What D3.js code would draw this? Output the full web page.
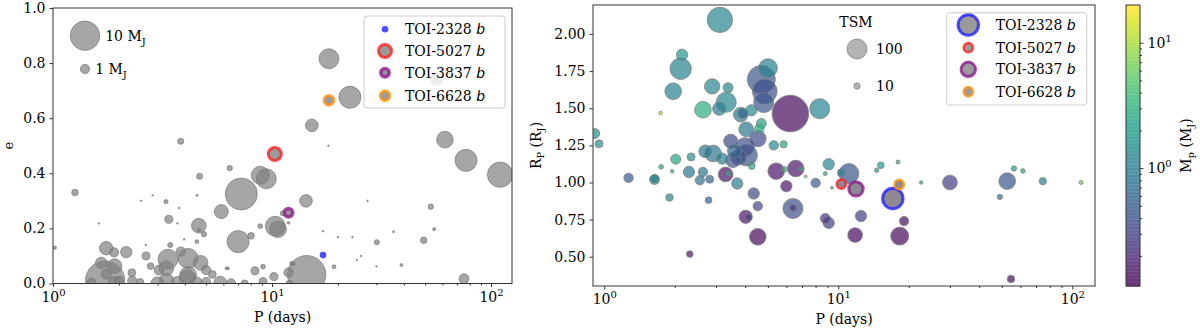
<!DOCTYPE html>
<html>
<head>
<meta charset="utf-8">
<script src="https://cdn.jsdelivr.net/npm/d3@7"></script>
<style>
  body { margin: 0; background: #fff; }
  svg { display: block; }
  text { font-family: "DejaVu Serif", serif; fill: #000; }
</style>
</head>
<body>
<svg id="chart" width="1200" height="332"></svg>
<script>
// ---- left panel: eccentricity vs period, marker size ~ planet mass (M_J)
const eccPeriod = [3.83, 6.41, 4.67, 8.84, 9.42, 1.26, 7.24, 5.87, 3.38, 4.63,
  4.89, 7.0, 8.02, 8.84, 10.35, 10.66, 11.2, 11.9, 14.3, 1.62,
  3.7, 1.02, 1.75, 1.90, 2.16, 2.66, 3.43, 3.83, 4.54, 3.97,
  1.66, 1.91, 1.75, 1.73, 2.29, 2.79, 3.35, 4.14, 3.29, 3.05,
  4.72, 5.0, 4.14, 3.28, 2.53, 2.85, 4.55, 5.34, 5.8, 8.36,
  9.1, 10.2, 9.1, 11.9, 12.3, 14.4, 17.1, 19.2, 20.0, 23.3,
  27.3, 30.1, 35.9, 39.0, 18.2, 22.7, 15.2, 18.1, 56.5, 61.6,
  76.9, 110, 53.1, 55, 49.3, 75.3, 12.5, 2.65, 3.77, 4.65,
  6.2, 2.3, 2.5, 3.0, 3.3, 3.7, 4.1, 4.5, 5.0, 1.9,
  2.0, 6.5, 7.5, 12, 1.5, 24.4, 25.5, 30, 6.3];
const eccValue = [0.516, 0.419, 0.389, 0.393, 0.380, 0.330, 0.325, 0.261, 0.233, 0.210,
  0.179, 0.152, 0.173, 0.208, 0.208, 0.197, 0.255, 0.22, 0.30, 0.218,
  0.218, 0.13, 0.128, 0.113, 0.114, 0.10, 0.14, 0.116, 0.152, 0.16,
  0.075, 0.063, 0.034, 0.01, 0.039, 0.063, 0.088, 0.091, 0.055, 0.049,
  0.075, 0.049, 0.031, 0.297, 0.30, 0.32, 0.32, 0.033, 0.003, 0.046,
  0.061, 0.025, 0.007, 0.04, 0.073, 0.032, 0.19, 0.061, 0.168, 0.168,
  0.30, 0.15, 0.188, 0.067, 0.816, 0.676, 0.574, 0.50, 0.742, 0.522,
  0.447, 0.395, 0.279, 0.197, 0.157, 0.017, 0.071, 0.14, 0.274, 0.194,
  0.055, 0.01, 0.005, 0.0, 0.01, 0.005, 0.02, 0.0, 0.005, 0.005,
  0.01, 0.0, 0.0, 0.0, 0.005, 0.085, 0.1, 0.062, 0.055];
const eccMass = [0.42, 0.33, 0.42, 3.7, 4.6, 0.5, 11.8, 2.27, 0.74, 2.46,
  0.33, 5.6, 0.5, 0.25, 4.6, 3.2, 0.3, 0.08, 1.85, 0.03,
  0.03, 0.12, 2.1, 1.0, 1.5, 0.74, 0.3, 1.0, 0.17, 0.03,
  1.5, 2.5, 1.15, 18, 0.7, 0.5, 4.6, 4.6, 2.5, 1.15,
  2.5, 1.0, 3.2, 0.2, 0.02, 0.02, 0.05, 0.7, 1.9, 0.74,
  0.25, 0.74, 0.74, 1.0, 0.17, 17, 0.03, 0.17, 0.03, 0.03,
  0.03, 0.3, 0.05, 0.1, 4.6, 5.6, 1.85, 0.03, 1.7, 3.2,
  5.6, 7.4, 0.33, 0.1, 0.5, 1.15, 0.17, 0.03, 0.03, 0.15,
  0.1, 1.0, 0.6, 2.0, 2.5, 1.5, 3.0, 2.0, 1.0, 1.5,
  1.0, 1.0, 0.6, 0.5, 0.8, 0.03, 0.03, 0.02, 0.08];

// ---- right panel: radius vs period, size ~ TSM, colour = mass (M_J)
const radPeriod = [3.12, 2.15, 2.12, 1.97, 1.74, 2.64, 2.89, 3.38, 3.32, 3.1,
  3.83, 3.9, 4.25, 5.01, 4.69, 4.85, 4.8, 6.24, 8.33, 4.04,
  4.69, 4.6, 4.53, 0.91, 0.95, 3.47, 5.3, 5.84, 3.99, 2.92,
  4.06, 3.19, 3.55, 2.02, 2.35, 1.75, 1.95, 2.30, 2.64, 2.56,
  2.82, 3.30, 3.4, 3.70, 4.27, 1.27, 1.64, 1.90, 2.79, 2.32,
  4.35, 4.53, 4.02, 4.14, 4.53, 5.43, 5.9, 6.58, 6.9, 7.25,
  6.0, 6.4, 6.4, 8.0, 9.1, 8.8, 9.4, 8.8, 9.1, 11.1,
  10.3, 12.5, 11.8, 14.6, 15.2, 18.0, 19.1, 18.3, 22.6, 30.0,
  52.7, 49, 56.3, 61.5, 74.8, 109, 54.7, 1.64, 2.7, 3.6, 3.75];
const radValue = [2.095, 1.86, 1.766, 1.614, 1.468, 1.49, 1.647, 1.638, 1.54, 1.497,
  1.457, 1.464, 1.486, 1.77, 1.694, 1.614, 1.538, 1.464, 1.497, 1.358,
  1.397, 1.363, 1.296, 1.33, 1.26, 1.278, 1.25, 1.257, 1.239, 1.195,
  1.183, 1.161, 1.15, 1.157, 1.172, 1.105, 1.076, 1.071, 1.071, 1.015,
  1.022, 1.054, 1.06, 0.993, 1.11, 1.031, 1.02, 0.899, 0.881, 0.518,
  0.926, 0.841, 0.769, 0.765, 0.634, 1.076, 1.089, 1.094, 1.09, 1.04,
  0.975, 0.825, 0.829, 0.997, 1.123, 1.06, 0.964, 0.758, 0.728, 1.06,
  1.065, 0.774, 0.646, 1.083, 1.116, 1.138, 0.74, 0.639, 1.0, 1.0,
  1.009, 0.903, 1.094, 1.078, 1.009, 1.0, 0.35, 1.025, 1.21, 1.21, 1.17];
const radTSM = [161, 32, 114, 69, 3, 69, 59, 25, 100, 44,
  54, 25, 32, 87, 196, 152, 100, 335, 100, 54,
  25, 22, 69, 25, 16, 49, 22, 13, 87, 69,
  114, 32, 54, 25, 16, 5.5, 3, 32, 22, 22,
  16, 54, 6, 32, 11, 22, 25, 14, 11, 11,
  32, 22, 44, 11, 69, 69, 7, 69, 4, 2,
  32, 100, 11, 22, 32, 4, 2, 25, 32, 100,
  16, 32, 54, 5, 11, 4, 22, 81, 3, 54,
  69, 7, 7, 5, 13, 4, 14, 16, 40, 49, 60];
const radMass = [1.2, 1.8, 1.1, 1.1, 15, 3, 1.2, 1.2, 1.2, 1.0,
  0.9, 0.6, 1.3, 1.1, 0.45, 0.4, 0.45, 0.13, 1.2, 0.9,
  2.5, 3, 0.35, 1.3, 1.7, 0.35, 1.3, 2.5, 0.4, 0.9,
  0.45, 1.0, 0.45, 2.5, 1.5, 2.5, 3, 0.9, 0.9, 0.8,
  0.6, 0.15, 3, 1.0, 2.5, 0.5, 1.3, 1.2, 0.6, 0.15,
  0.35, 0.35, 0.15, 0.3, 0.13, 0.15, 3, 0.15, 3, 6,
  0.15, 0.4, 0.25, 0.5, 1.2, 2.5, 3, 0.25, 0.3, 0.45,
  1.2, 0.3, 0.13, 2, 1.8, 2.5, 0.13, 0.13, 3, 0.3,
  0.45, 0.7, 1.8, 2, 1.1, 6, 0.13, 1.0, 0.8, 0.6, 0.4];

// ---- highlighted planets
const toiNames = ["TOI-2328", "TOI-5027", "TOI-3837", "TOI-6628"];
const toiPeriod = [17.1, 10.3, 11.9, 18.2];
const toiEcc = [0.103, 0.47, 0.257, 0.665];
const toiRadius = [0.892, 0.989, 0.957, 0.987];

// ---- ticks
const eTicks = [0, 0.2, 0.4, 0.6, 0.8, 1.0];
const rTicks = [0.5, 0.75, 1.0, 1.25, 1.5, 1.75, 2.0];
const pTicks = [1, 10, 100];
const massTicks = [1, 10];
const sizeLegendMass = [10, 1];
const sizeLegendTSM = [100, 10];

// marker styles for the highlighted planets (left, right)
const toiStyle = [
  { col: "#2020ff", left: { r: 3.3, w: 0, fill: true }, right: { r: 10.2, w: 3 } },
  { col: "#ff2020", left: { r: 6.5, w: 3 }, right: { r: 4.6, w: 2.6 } },
  { col: "#8d1a8d", left: { r: 4.2, w: 3.6 }, right: { r: 7.2, w: 3 } },
  { col: "#ff9410", left: { r: 4.8, w: 3 }, right: { r: 4.6, w: 2.8 } }
];

const svg = d3.select("#chart");
const spine = "#333";

function logMinors(lo, hi) {
  let out = [];
  for (let e = -2; e <= 3; e++) {
    for (let k = 2; k <= 9; k++) {
      let v = k * Math.pow(10, e);
      if (v > lo && v < hi) out.push(v);
    }
  }
  return out;
}

function powLabel(sel, base) {
  // replace the axis text with 10^n
  sel.selectAll(".tick text").each(function (d) {
    let t = d3.select(this);
    t.text(null);
    t.append("tspan").text(base);
    t.append("tspan").attr("dy", -6).attr("font-size", 10)
      .text(Math.round(Math.log10(d)));
  });
}

function drawFrame(g, x0, y0, x1, y1) {
  g.append("rect").attr("x", x0).attr("y", y0)
    .attr("width", x1 - x0).attr("height", y1 - y0)
    .attr("fill", "none").attr("stroke", spine).attr("stroke-width", 1);
}

function styleAxis(ax) {
  ax.select(".domain").remove();
  ax.selectAll(".tick line").attr("stroke", spine);
  ax.selectAll(".tick text").attr("font-family", "DejaVu Serif")
    .attr("font-size", 14).attr("fill", "#000");
}

// =============== LEFT PANEL ===============
const L = { x0: 53, x1: 512, y0: 8, y1: 283.5 };
const xL = d3.scaleLog().domain([1, 124.7]).range([L.x0, L.x1]);
const yL = d3.scaleLinear().domain([0, 1]).range([L.y1, L.y0]);
const rMass = m => Math.max(0.8, 4.65 * Math.sqrt(m));

svg.append("clipPath").attr("id", "clipL").append("rect")
  .attr("x", L.x0).attr("y", L.y0).attr("width", L.x1 - L.x0).attr("height", L.y1 - L.y0);

let leftData = eccPeriod.map((p, i) => ({ p: p, e: eccValue[i], m: eccMass[i] }));
leftData.sort((a, b) => b.m - a.m);

svg.append("g").attr("clip-path", "url(#clipL)")
  .selectAll("circle").data(leftData).join("circle")
  .attr("cx", d => xL(d.p)).attr("cy", d => yL(d.e)).attr("r", d => rMass(d.m))
  .attr("fill", "#808080").attr("fill-opacity", 0.7)
  .attr("stroke", "#777").attr("stroke-opacity", 0.7).attr("stroke-width", 1);

// highlighted planets
svg.append("g").attr("clip-path", "url(#clipL)")
  .selectAll("circle").data(toiNames).join("circle")
  .attr("cx", (d, i) => xL(toiPeriod[i])).attr("cy", (d, i) => yL(toiEcc[i]))
  .attr("r", (d, i) => toiStyle[i].left.r)
  .attr("fill", (d, i) => toiStyle[i].left.fill ? toiStyle[i].col : "#9a9a9a")
  .attr("fill-opacity", (d, i) => toiStyle[i].left.fill ? 0.8 : 1)
  .attr("stroke", (d, i) => toiStyle[i].col).attr("stroke-opacity", 0.8)
  .attr("stroke-width", (d, i) => toiStyle[i].left.w);

let axLx = svg.append("g").attr("transform", `translate(0,${L.y1})`)
  .call(d3.axisBottom(xL).tickValues(pTicks.filter(v => v <= 124.7)).tickSize(3.5).tickPadding(5).tickFormat(d => d));
styleAxis(axLx); powLabel(axLx, "10");
let axLxm = svg.append("g").attr("transform", `translate(0,${L.y1})`)
  .call(d3.axisBottom(xL).tickValues(logMinors(1, 124.7)).tickSize(2).tickFormat(""));
styleAxis(axLxm);
let axLy = svg.append("g").attr("transform", `translate(${L.x0},0)`)
  .call(d3.axisLeft(yL).tickValues(eTicks).tickSize(3.5).tickPadding(4).tickFormat(d3.format(".1f")));
styleAxis(axLy);
drawFrame(svg, L.x0, L.y0, L.x1, L.y1);

svg.append("text").attr("x", (L.x0 + L.x1) / 2).attr("y", 322).attr("text-anchor", "middle")
  .attr("font-size", 14).text("P (days)");
svg.append("text").attr("transform", `translate(13,${(L.y0 + L.y1) / 2}) rotate(-90)`)
  .attr("text-anchor", "middle").attr("font-size", 13).attr("font-family", "DejaVu Sans").text("e");

// mass size legend
const sizeLegY = [35.7, 69];
sizeLegendMass.forEach((m, i) => {
  svg.append("circle").attr("cx", 85).attr("cy", sizeLegY[i]).attr("r", rMass(m))
    .attr("fill", "#808080").attr("fill-opacity", 0.7)
    .attr("stroke", "#777").attr("stroke-opacity", 0.7);
  let t = svg.append("text").attr("x", 85 + rMass(m) + 5.5).attr("y", sizeLegY[i] + 5).attr("font-size", 14);
  t.append("tspan").text(m + " M");
  t.append("tspan").attr("dy", 4).attr("font-size", 10).text("J");
});

// TOI legend (left)
svg.append("rect").attr("x", 364).attr("y", 16).attr("width", 141).attr("height", 92).attr("rx", 3)
  .attr("fill", "#fff").attr("fill-opacity", 0.8).attr("stroke", "#ccc");
const legLY = [29.3, 51, 72.7, 95.7];
toiNames.forEach((n, i) => {
  let s = toiStyle[i];
  svg.append("circle").attr("cx", 385).attr("cy", legLY[i]).attr("r", s.left.r)
    .attr("fill", s.left.fill ? s.col : "#9a9a9a").attr("fill-opacity", s.left.fill ? 0.8 : 1)
    .attr("stroke", s.col).attr("stroke-opacity", 0.8).attr("stroke-width", s.left.w);
  let t = svg.append("text").attr("x", 405).attr("y", legLY[i] + 5).attr("font-size", 14);
  t.append("tspan").text(n + " ");
  t.append("tspan").attr("font-family", "DejaVu Sans").attr("font-style", "italic").text("b");
});

// =============== RIGHT PANEL ===============
const R = { x0: 593, x1: 1095, y0: 5, y1: 286 };
const xR = d3.scaleLog().domain([0.895, 125]).range([R.x0, R.x1]);
const yR = d3.scaleLinear().domain([0.303, 2.195]).range([R.y1, R.y0]);
const color = d3.scaleSequentialLog(d3.interpolateViridis).domain([0.115, 20]);
const rTSM = t => Math.sqrt(t);

svg.append("clipPath").attr("id", "clipR").append("rect")
  .attr("x", R.x0).attr("y", R.y0).attr("width", R.x1 - R.x0).attr("height", R.y1 - R.y0);

let rightData = radPeriod.map((p, i) => ({ p: p, r: radValue[i], t: radTSM[i], m: radMass[i] }));
rightData.sort((a, b) => b.t - a.t);

svg.append("g").attr("clip-path", "url(#clipR)")
  .selectAll("circle").data(rightData).join("circle")
  .attr("cx", d => xR(d.p)).attr("cy", d => yR(d.r)).attr("r", d => rTSM(d.t))
  .attr("fill", d => color(d.m)).attr("fill-opacity", 0.7)
  .attr("stroke", "#808080").attr("stroke-opacity", 0.8).attr("stroke-width", 1);

svg.append("g").attr("clip-path", "url(#clipR)")
  .selectAll("circle").data(toiNames).join("circle")
  .attr("cx", (d, i) => xR(toiPeriod[i])).attr("cy", (d, i) => yR(toiRadius[i]))
  .attr("r", (d, i) => toiStyle[i].right.r)
  .attr("fill", "#8c8a90")
  .attr("stroke", (d, i) => toiStyle[i].col).attr("stroke-opacity", 0.8)
  .attr("stroke-width", (d, i) => toiStyle[i].right.w);

let axRx = svg.append("g").attr("transform", `translate(0,${R.y1})`)
  .call(d3.axisBottom(xR).tickValues(pTicks).tickSize(3.5).tickPadding(5).tickFormat(d => d));
styleAxis(axRx); powLabel(axRx, "10");
let axRxm = svg.append("g").attr("transform", `translate(0,${R.y1})`)
  .call(d3.axisBottom(xR).tickValues(logMinors(0.95, 125)).tickSize(2).tickFormat(""));
styleAxis(axRxm);
let axRy = svg.append("g").attr("transform", `translate(${R.x0},0)`)
  .call(d3.axisLeft(yR).tickValues(rTicks).tickSize(3.5).tickPadding(4).tickFormat(d3.format(".2f")));
styleAxis(axRy);
drawFrame(svg, R.x0, R.y0, R.x1, R.y1);

svg.append("text").attr("x", (R.x0 + R.x1) / 2).attr("y", 324).attr("text-anchor", "middle")
  .attr("font-size", 14).text("P (days)");
let ylab = svg.append("text").attr("transform", `translate(541,${(R.y0 + R.y1) / 2}) rotate(-90)`)
  .attr("text-anchor", "middle").attr("font-size", 14);
ylab.append("tspan").text("R");
ylab.append("tspan").attr("dy", 3).attr("font-size", 10).text("P");
ylab.append("tspan").attr("dy", -3).text(" (R");
ylab.append("tspan").attr("dy", 3).attr("font-size", 10).text("J");
ylab.append("tspan").attr("dy", -3).text(")");

// TSM size legend
svg.append("text").attr("x", 856).attr("y", 27).attr("text-anchor", "middle").attr("font-size", 14).text("TSM");
const tsmLegY = [49, 86];
sizeLegendTSM.forEach((v, i) => {
  svg.append("circle").attr("cx", 857).attr("cy", tsmLegY[i]).attr("r", rTSM(v))
    .attr("fill", "#808080").attr("fill-opacity", 0.6)
    .attr("stroke", "#777").attr("stroke-opacity", 0.7);
  svg.append("text").attr("x", 876).attr("y", tsmLegY[i] + 5).attr("font-size", 14).text(v);
});

// TOI legend (right)
svg.append("rect").attr("x", 946.7).attr("y", 12.7).attr("width", 140).attr("height", 92.3).attr("rx", 3)
  .attr("fill", "#fff").attr("fill-opacity", 0.8).attr("stroke", "#ccc");
const legRY = [25, 47.7, 69.3, 91.7];
toiNames.forEach((n, i) => {
  let s = toiStyle[i];
  svg.append("circle").attr("cx", 968.3).attr("cy", legRY[i]).attr("r", s.right.r)
    .attr("fill", "#9a9a9a")
    .attr("stroke", s.col).attr("stroke-opacity", 0.8).attr("stroke-width", s.right.w);
  let t = svg.append("text").attr("x", 995.7).attr("y", legRY[i] + 5).attr("font-size", 14);
  t.append("tspan").text(n + " ");
  t.append("tspan").attr("font-family", "DejaVu Sans").attr("font-style", "italic").text("b");
});

// =============== COLORBAR ===============
const C = { x0: 1126, x1: 1140, y0: 5, y1: 286 };
const yC = d3.scaleLog().domain([0.115, 20]).range([C.y1, C.y0]);
const steps = d3.range(0, 200);
svg.append("g").selectAll("rect").data(steps).join("rect")
  .attr("x", C.x0).attr("width", C.x1 - C.x0)
  .attr("y", k => C.y1 - (k + 1) * (C.y1 - C.y0) / 200)
  .attr("height", (C.y1 - C.y0) / 200 + 0.6)
  .attr("fill", k => color(yC.invert(C.y1 - (k + 0.5) * (C.y1 - C.y0) / 200)))
  .attr("fill-opacity", 0.7);
let axC = svg.append("g").attr("transform", `translate(${C.x1},0)`)
  .call(d3.axisRight(yC).tickValues(massTicks).tickSize(3.5).tickPadding(4).tickFormat(d => d));
styleAxis(axC); powLabel(axC, "10");
let axCm = svg.append("g").attr("transform", `translate(${C.x1},0)`)
  .call(d3.axisRight(yC).tickValues(logMinors(0.115, 20)).tickSize(2).tickFormat(""));
styleAxis(axCm);
drawFrame(svg, C.x0, C.y0, C.x1, C.y1);

let clab = svg.append("text").attr("transform", `translate(1191,${(C.y0 + C.y1) / 2}) rotate(-90)`)
  .attr("text-anchor", "middle").attr("font-size", 14);
clab.append("tspan").text("M");
clab.append("tspan").attr("dy", 3).attr("font-size", 10).text("p");
clab.append("tspan").attr("dy", -3).text(" (M");
clab.append("tspan").attr("dy", 3).attr("font-size", 10).text("J");
clab.append("tspan").attr("dy", -3).text(")");
</script>
</body>
</html>
